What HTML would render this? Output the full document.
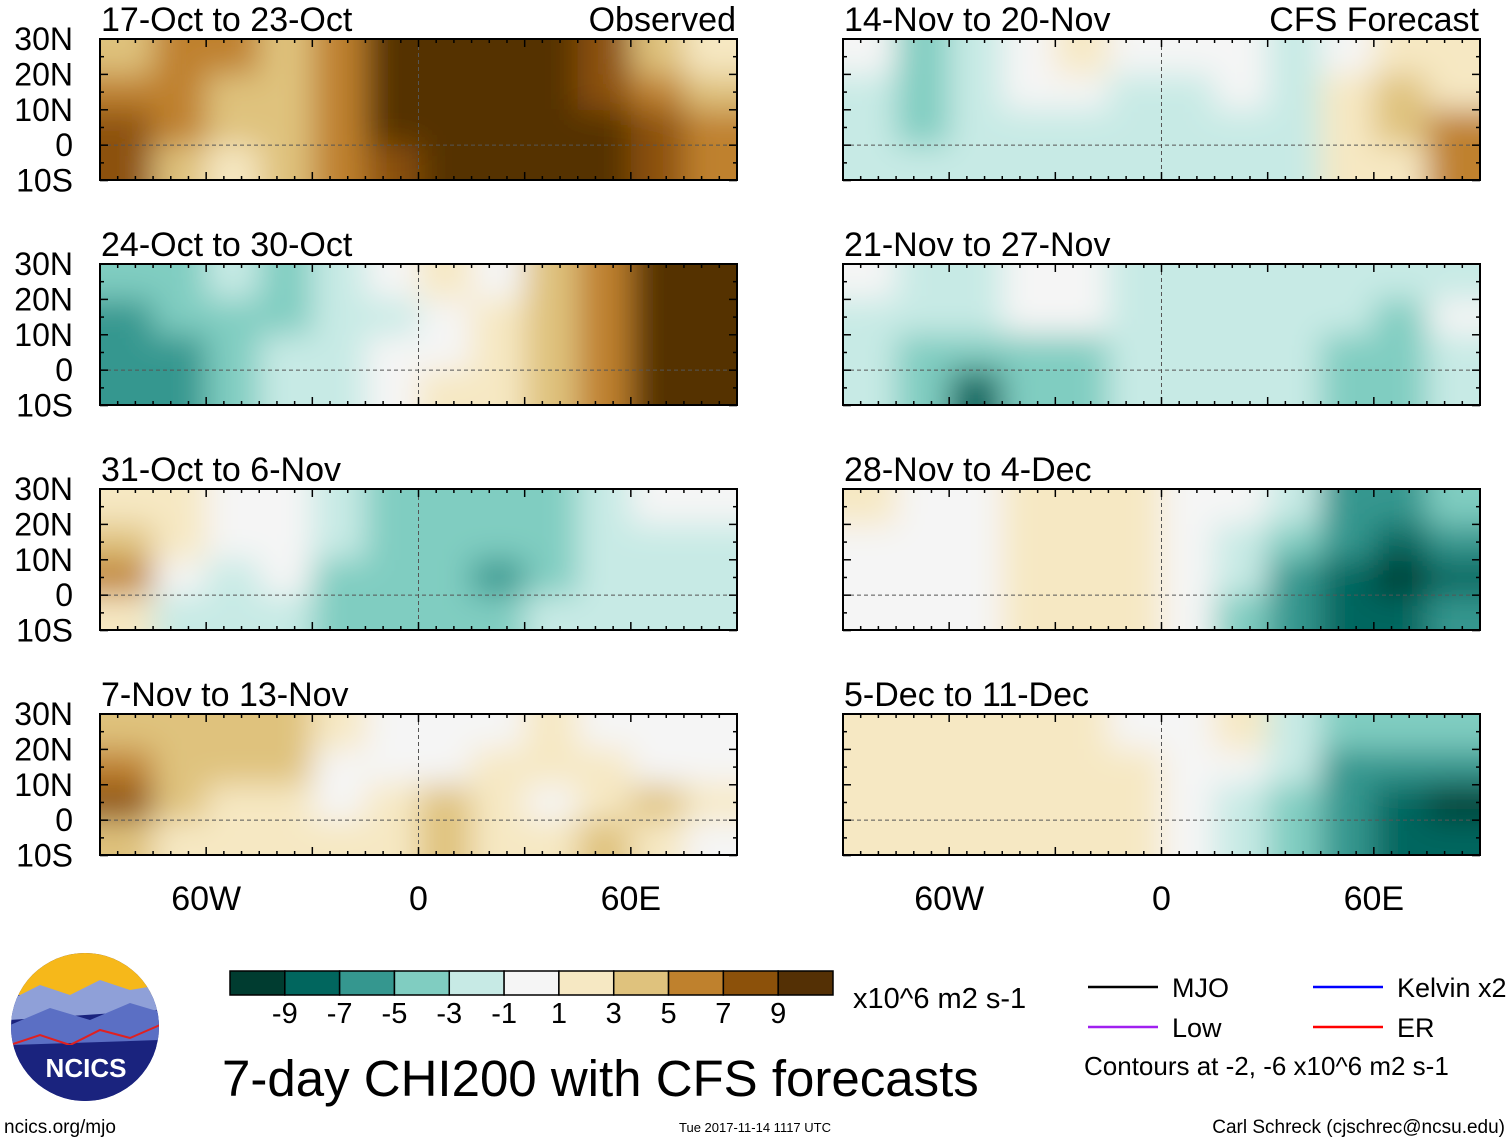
<!DOCTYPE html>
<html><head><meta charset="utf-8"><style>
body{margin:0;background:#fff;}
svg text{font-family:"Liberation Sans",Arial,sans-serif;}
</style></head><body>
<svg id="chart" width="1510" height="1142" viewBox="0 0 1510 1142" xmlns="http://www.w3.org/2000/svg">
<defs><filter id="blur" x="-10%" y="-20%" width="120%" height="140%"><feGaussianBlur stdDeviation="16"/></filter></defs>
<g id="panels"></g>
<g id="footer"></g>
</svg>
<script>
const titles=["17-Oct to 23-Oct","24-Oct to 30-Oct","31-Oct to 6-Nov","7-Nov to 13-Nov","14-Nov to 20-Nov","21-Nov to 27-Nov","28-Nov to 4-Dec","5-Dec to 11-Dec"];
const lonCenters=[-82.5,-67.5,-52.5,-37.5,-22.5,-7.5,7.5,22.5,37.5,52.5,67.5,82.5];
const latCenters=[25,15,5,-5];
const p1=[[3,5,5,3,5,10,10,10,10,7,3,1],[5,5,3,3,5,10,10,10,10,7,5,3],[7,5,3,3,5,10,10,10,10,10,7,5],[8,3,1,3,5,8,10,10,10,10,8,6]];
const p2=[[-4,-4,-2,-4,-2,0,2,0,4,6,10,10],[-5,-4,-4,-4,-2,-1,0,2,4,6,10,10],[-6,-5,-3,-2,-1,0,0,1,3,6,10,10],[-5,-5,-4,-2,-1,0,1,2,3,6,10,10]];
const p3=[[2,2,0,0,-2,-3,-3,-3,-4,-2,0,0],[4,1,0,0,-2,-3,-3,-4,-3,-2,-1,-2],[5,0,-2,0,-3,-4,-4,-5,-4,-2,-1,-2],[2,-1,-2,-2,-3,-3,-3,-4,-2,-1,-2,-2]];
const p4=[[3,3,4,3,1,0,0,0,1,0,0,0],[6,3,3,4,0,0,0,2,1,2,0,0],[7,3,2,2,0,1,3,2,0,2,3,2],[4,2,1,1,1,1,4,1,2,4,2,0]];
const p5=[[0,-3,-2,0,1,0,0,0,-1,0,2,1],[-1,-3,-1,0,0,-1,-1,0,-1,2,3,2],[-2,-3,-2,-1,-1,-2,-1,-1,-1,1,3,6],[-2,-2,-1,-1,-1,-2,-1,-1,-1,1,2,5]];
const p6=[[0,-2,-2,0,0,-1,-1,-2,-2,-1,-2,-1],[-2,-2,-2,0,0,-1,-2,-2,-2,-2,-3,0],[-2,-3,-4,-4,-3,-2,-2,-2,-2,-3,-4,-1],[-2,-3,-7,-4,-3,-2,-2,-2,-2,-3,-3,-1]];
const p7=[[2,0,0,1,2,1,0,0,-2,-5,-5,-4],[0,0,0,1,2,2,0,-1,-3,-6,-8,-6],[0,0,0,1,2,1,0,-2,-5,-8,-10,-7],[0,0,0,1,1,1,0,-3,-6,-8,-8,-6]];
const p8=[[1,1,1,1,1,0,0,1,-1,-3,-3,-3],[1,1,1,1,2,1,0,0,-2,-5,-6,-6],[1,1,1,1,1,1,0,-1,-4,-6,-7,-9],[1,1,1,1,1,1,0,-2,-4,-6,-7,-8]];
const panelData=[p1,p2,p3,p4,p5,p6,p7,p8];
const levels=[-9,-7,-5,-3,-1,1,3,5,7,9];
const colors=["#003c30","#01665e","#35978f","#80cdc1","#c7eae5","#f5f5f5","#f6e8c3","#dfc27d","#bf812d","#8c510a","#543005"];
const latTicks=["30N","20N","10N","0","10S"];
const latVals=[30,20,10,0,-10];
const lonTicks=["60W","0","60E"];
const lonVals=[-60,0,60];
const NS="http://www.w3.org/2000/svg";
function mk(t,a,p){const e=document.createElementNS(NS,t);for(const k in a)e.setAttribute(k,a[k]);p.appendChild(e);return e;}
function colorFor(v){v=v+Math.sign(v)*0.5;let i=0;while(i<levels.length&&v>levels[i])i++;return colors[i];}
const PW=637,PH=141,scale=PW/180;
const colX=[100,843],rowY=[39,264,489,714];
function xs(px,lon){return px+(lon+90)*scale;}
function ys(py,lat){return py+(30-lat)*scale;}
const G=document.getElementById('panels');
panelData.forEach((data,pi)=>{
  const px=colX[Math.floor(pi/4)],py=rowY[pi%4];
  const g=mk('g',{},G);
  
  
  const cp=mk('clipPath',{id:'c'+pi},g);
  mk('rect',{x:px,y:py,width:PW,height:PH},cp);
  const cl=mk('g',{'clip-path':'url(#c'+pi+')'},g);
  const bl=mk('g',{filter:'url(#blur)'},cl);
  data.forEach((row,ri)=>row.forEach((v,ci)=>{
    let x0=xs(px,lonCenters[ci]-7.5),x1=xs(px,lonCenters[ci]+7.5);
    let y0=ys(py,latCenters[ri]+5),y1=ys(py,latCenters[ri]-5);
    if(ci==0)x0-=50;if(ci==row.length-1)x1+=50;if(ri==0)y0-=50;if(ri==data.length-1)y1+=50;
    const r=mk('rect',{x:x0,y:y0,width:x1-x0+1,height:y1-y0+1,fill:colorFor(v)},bl);
    
    
  }));
  mk('line',{x1:px,x2:px+PW,y1:ys(py,0),y2:ys(py,0),stroke:'#555','stroke-dasharray':'4,3','stroke-width':1},g);
  mk('line',{x1:xs(px,0),x2:xs(px,0),y1:py,y2:py+PH,stroke:'#555','stroke-dasharray':'4,3','stroke-width':1},g);
  mk('rect',{x:px,y:py,width:PW,height:PH,fill:'none',stroke:'#000','stroke-width':2},g);
  for(let l=-90;l<=90;l+=5){const x=xs(px,l);const len=l%30==0?8:4;
    mk('line',{x1:x,x2:x,y1:py,y2:py+len,stroke:'#000','stroke-width':1.5},g);
    mk('line',{x1:x,x2:x,y1:py+PH,y2:py+PH-len,stroke:'#000','stroke-width':1.5},g);}
  for(let l=-10;l<=30;l+=5){const y=ys(py,l);const len=l%10==0?8:4;
    mk('line',{x1:px,x2:px+len,y1:y,y2:y,stroke:'#000','stroke-width':1.5},g);
    mk('line',{x1:px+PW,x2:px+PW-len,y1:y,y2:y,stroke:'#000','stroke-width':1.5},g);}
  const t=mk('text',{x:px+1,y:py-8,'font-size':34},g);t.textContent=titles[pi];
  
  if(pi==0||pi==4){const t2=mk('text',{x:px+PW-1,y:py-8,'font-size':34,'text-anchor':'end'},g);t2.textContent=pi==0?'Observed':'CFS Forecast';
    }
  if(pi<4)latTicks.forEach((lab,k)=>{const tt=mk('text',{x:px-27,y:ys(py,latVals[k])+11,'font-size':32,'text-anchor':'end'},g);tt.textContent=lab;
    });
  if(pi%4==3)lonTicks.forEach((lab,k)=>{const tt=mk('text',{x:xs(px,lonVals[k]),y:py+PH+55,'font-size':34,'text-anchor':'middle'},g);tt.textContent=lab;
    });
});
const F=document.getElementById('footer');
const cb=mk('g',{},F);
const cbx=230,cbw=603/11;
colors.forEach((c,i)=>{mk('rect',{x:cbx+i*cbw,y:971,width:cbw,height:24,fill:c,stroke:'#000','stroke-width':1.5},cb);});
levels.forEach((l,i)=>{const t=mk('text',{x:cbx+(i+1)*cbw,y:1023,'font-size':29,'text-anchor':'middle'},cb);t.textContent=l;});
let t=mk('text',{x:853,y:1008,'font-size':29},F);t.textContent='x10^6 m2 s-1';

t=mk('text',{x:222,y:1096,'font-size':51},F);t.textContent='7-day CHI200 with CFS forecasts';

const lg=[['MJO','#000',1088,987],['Kelvin x2','#0000ff',1313,987],['Low','#a020f0',1088,1027],['ER','#ff0000',1313,1027]];
lg.forEach(d=>{const g=mk('g',{},F);
  mk('line',{x1:d[2],x2:d[2]+70,y1:d[3],y2:d[3],stroke:d[1],'stroke-width':2.5},g);
  const tt=mk('text',{x:d[2]+84,y:d[3]+10,'font-size':27},g);tt.textContent=d[0];});
t=mk('text',{x:1084,y:1075,'font-size':26},F);t.textContent='Contours at -2, -6 x10^6 m2 s-1';

t=mk('text',{x:4,y:1133,'font-size':19},F);t.textContent='ncics.org/mjo';

t=mk('text',{x:755,y:1132,'font-size':13,'text-anchor':'middle'},F);t.textContent='Tue 2017-11-14 1117 UTC';

t=mk('text',{x:1505,y:1133,'font-size':19,'text-anchor':'end'},F);t.textContent='Carl Schreck (cjschrec@ncsu.edu)';

const lo=mk('g',{},F);
const lcp=mk('clipPath',{id:'logoclip'},lo);
mk('circle',{cx:85,cy:1027,r:74},lcp);
const lg2=mk('g',{'clip-path':'url(#logoclip)'},lo);
mk('rect',{x:0,y:950,width:170,height:160,fill:'#1a237e'},lg2);
mk('rect',{x:0,y:950,width:170,height:45,fill:'#f6b81a'},lg2);
mk('path',{d:'M10 1000 L40 985 L70 995 L100 980 L130 990 L160 985 L160 1010 L10 1020Z',fill:'#8fa0d8'},lg2);
mk('path',{d:'M10 1025 L50 1008 L90 1020 L130 1003 L160 1012 L160 1040 L10 1045Z',fill:'#5b6fc4'},lg2);
mk('path',{d:'M10 1045 L40 1035 L70 1045 L100 1030 L130 1038 L160 1025',fill:'none',stroke:'#e02020','stroke-width':2},lg2);
mk('rect',{x:0,y:1045,width:170,height:70,fill:'#1a237e'},lg2);
t=mk('text',{x:86,y:1077,'font-size':26,'font-weight':'bold',fill:'#fff','text-anchor':'middle'},lo);t.textContent='NCICS';
</script>
</body></html>
